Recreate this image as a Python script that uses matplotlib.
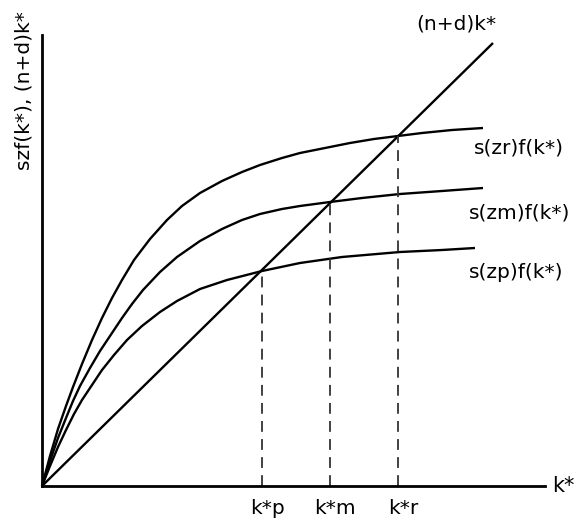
import matplotlib.pyplot as plt

# valores (unidades arbitrarias, origen en la esquina de los ejes)
k_zr = [0, 8, 16, 24, 31, 40, 50, 60, 70, 80, 92, 108, 125, 140, 158, 180,
        200, 218, 240, 258, 283, 308, 332, 356, 380, 410, 441]
y_zr = [0, 30, 57, 80, 99, 122, 146, 168, 188, 206, 226, 247, 266, 280, 293, 305,
        314, 321, 328, 333, 338, 343, 347, 350, 353, 356, 358]

k_zm = [0, 8, 16, 24, 31, 38, 48, 58, 68, 80, 90, 101, 118, 135, 158, 180,
        200, 218, 240, 258, 288, 320, 358, 400, 441]
y_zm = [0, 25, 48, 68, 85, 100, 118, 135, 150, 168, 182, 196, 214, 229, 245, 257,
        266, 272, 277, 280, 284, 288, 292, 295, 298]

k_zp = [0, 8, 16, 24, 32, 40, 50, 60, 72, 85, 100, 118, 135, 158, 185,
        220, 258, 300, 358, 400, 433]
y_zp = [0, 20, 39, 56, 72, 86, 101, 116, 131, 146, 160, 174, 185, 197, 206,
        215, 223, 229, 234, 236, 238]

k_nd = [0, 451]
y_nd = [0, 443]

k_star = [220, 288, 356]
y_star = [216, 283, 350]
k_labels = ['k*p', 'k*m', 'k*r']

curve_labels = ['s(zr)f(k*)', 's(zm)f(k*)', 's(zp)f(k*)']

plt.rcParams['font.family'] = ['DejaVu Sans']

fig = plt.figure(figsize=(5.78, 5.21), dpi=100)
ax = fig.add_axes([42/578, 35/521, 503/578, 451/521])
ax.set_xlim(0, 503)
ax.set_ylim(0, 451)

for s in ['top', 'right']:
    ax.spines[s].set_visible(False)
for s in ['left', 'bottom']:
    ax.spines[s].set_linewidth(2)
ax.set_xticks([])
ax.set_yticks([])

lw = 1.7
style = dict(color='k', lw=lw, clip_on=False, solid_capstyle='butt', solid_joinstyle='round')
ax.plot(k_zr, y_zr, **style)
ax.plot(k_zm, y_zm, **style)
ax.plot(k_zp, y_zp, **style)
ax.plot(k_nd, y_nd, **style)

fs = 14.5
for i, k in enumerate(k_star):
    ax.plot([k, k], [0, y_star[i]], color='#333333', lw=1.3, dashes=(6, 4))
    ax.text(k + 5, -23, k_labels[i], ha='center', va='center', fontsize=fs)

ax.text(432, 338, curve_labels[0], ha='left', va='center', fontsize=fs)
ax.text(427, 273, curve_labels[1], ha='left', va='center', fontsize=fs)
ax.text(427, 213, curve_labels[2], ha='left', va='center', fontsize=fs)
ax.text(414, 462, '(n+d)k*', ha='center', va='center', fontsize=fs)
ax.text(510, 0, 'k*', ha='left', va='center', fontsize=fs + 0.5)

ax.text(-18, 395, 'szf(k*), (n+d)k*', rotation=90, ha='center', va='center', fontsize=fs)

fig.savefig('out.png', dpi=100)
